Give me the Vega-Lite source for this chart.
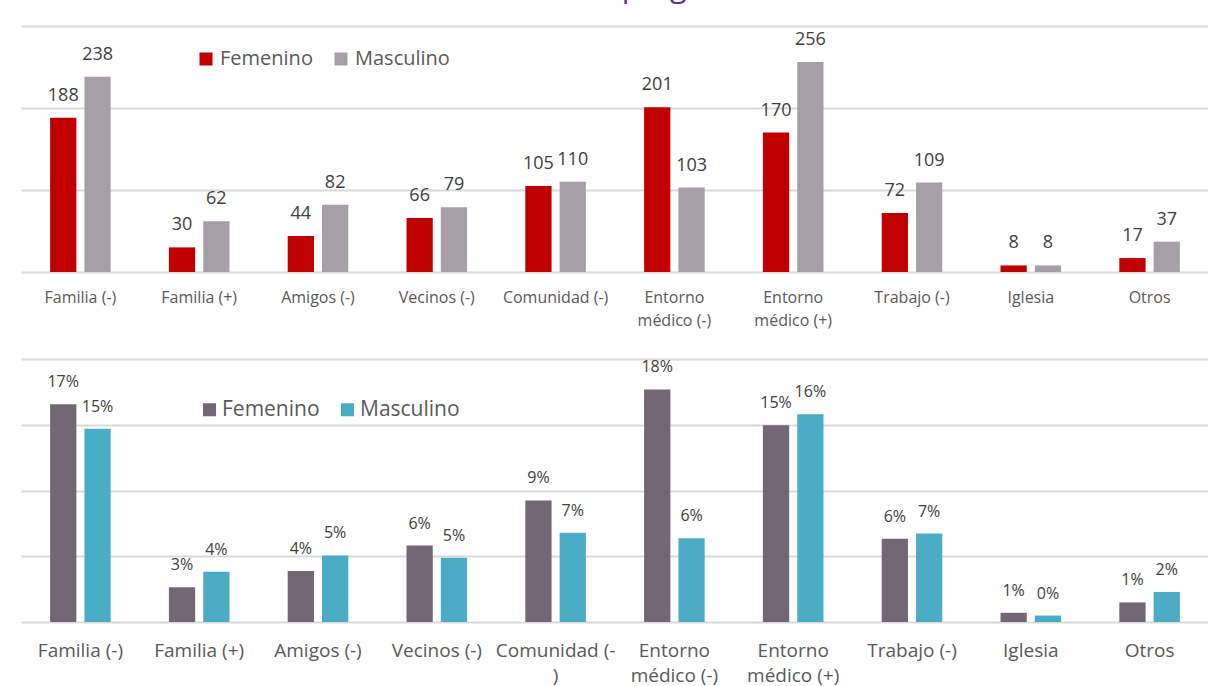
{
  "$schema": "https://vega.github.io/schema/vega-lite/v6.json",
  "padding": {"left": 21, "top": -28, "right": 0, "bottom": 0},
  "background": "white",
  "title": {
    "text": "Gráfico N° 14 – Entornos mencionados en preguntas abiertas",
    "anchor": "start",
    "fontSize": 30.5,
    "font": "Open Sans",
    "fontWeight": "normal",
    "color": "#662D91",
    "baseline": "alphabetic",
    "offset": -1
  },
  "bounds": "flush",
  "spacing": 87,
  "datasets": {
    "d": [
      {"cat": "Familia (-)", "genero": "Femenino", "n": 188, "pct": 0.1655},
      {"cat": "Familia (-)", "genero": "Masculino", "n": 238, "pct": 0.1469},
      {"cat": "Familia (+)", "genero": "Femenino", "n": 30, "pct": 0.0264},
      {"cat": "Familia (+)", "genero": "Masculino", "n": 62, "pct": 0.0383},
      {"cat": "Amigos (-)", "genero": "Femenino", "n": 44, "pct": 0.0387},
      {"cat": "Amigos (-)", "genero": "Masculino", "n": 82, "pct": 0.0506},
      {"cat": "Vecinos (-)", "genero": "Femenino", "n": 66, "pct": 0.0581},
      {"cat": "Vecinos (-)", "genero": "Masculino", "n": 79, "pct": 0.0488},
      {"cat": "Comunidad (-)", "genero": "Femenino", "n": 105, "pct": 0.0924},
      {"cat": "Comunidad (-)", "genero": "Masculino", "n": 110, "pct": 0.0679},
      {"cat": "Entorno médico (-)", "genero": "Femenino", "n": 201, "pct": 0.1769},
      {"cat": "Entorno médico (-)", "genero": "Masculino", "n": 103, "pct": 0.0636},
      {"cat": "Entorno médico (+)", "genero": "Femenino", "n": 170, "pct": 0.1496},
      {"cat": "Entorno médico (+)", "genero": "Masculino", "n": 256, "pct": 0.158},
      {"cat": "Trabajo (-)", "genero": "Femenino", "n": 72, "pct": 0.0634},
      {"cat": "Trabajo (-)", "genero": "Masculino", "n": 109, "pct": 0.0673},
      {"cat": "Iglesia", "genero": "Femenino", "n": 8, "pct": 0.007},
      {"cat": "Iglesia", "genero": "Masculino", "n": 8, "pct": 0.0049},
      {"cat": "Otros", "genero": "Femenino", "n": 17, "pct": 0.0149},
      {"cat": "Otros", "genero": "Masculino", "n": 37, "pct": 0.0228}
    ]
  },
  "vconcat": [
    {
      "width": 1188,
      "height": 246,
      "data": {"name": "d"},
      "encoding": {
        "x": {
          "field": "cat",
          "type": "nominal",
          "sort": ["Familia (-)", "Familia (+)", "Amigos (-)", "Vecinos (-)", "Comunidad (-)", "Entorno médico (-)", "Entorno médico (+)", "Trabajo (-)", "Iglesia", "Otros"],
          "scale": {"paddingInner": 0.49, "paddingOuter": 0.245},
          "axis": {
            "labelFontSize": 16,
            "labelPadding": 17,
            "labelLineHeight": 23,
            "labelExpr": "datum.value == 'Entorno médico (-)' ? ['Entorno', 'médico (-)'] : datum.value == 'Entorno médico (+)' ? ['Entorno', 'médico (+)'] : datum.label"
          }
        },
        "xOffset": {"field": "genero", "type": "nominal", "scale": {"paddingInner": 0.235}},
        "y": {
          "field": "n",
          "type": "quantitative",
          "scale": {"domain": [0, 300], "nice": false},
          "axis": {"values": [0, 100, 200, 300]}
        }
      },
      "layer": [
        {
          "mark": {"type": "bar"},
          "encoding": {
            "color": {
              "field": "genero",
              "type": "nominal",
              "scale": {"domain": ["Femenino", "Masculino"], "range": ["#C00000", "#A79FA7"]},
              "legend": {
                "orient": "none",
                "direction": "horizontal",
                "legendX": 175,
                "legendY": 23,
                "labelFontSize": 20,
                "labelOffset": 4,
                "columnPadding": 18
              }
            }
          }
        },
        {
          "mark": {"type": "text", "baseline": "alphabetic", "dy": -17, "fontSize": 18, "font": "Open Sans", "color": "#404040"},
          "encoding": {"text": {"field": "n", "type": "quantitative"}}
        }
      ]
    },
    {
      "width": 1188,
      "height": 263,
      "data": {"name": "d"},
      "encoding": {
        "x": {
          "field": "cat",
          "type": "nominal",
          "sort": ["Familia (-)", "Familia (+)", "Amigos (-)", "Vecinos (-)", "Comunidad (-)", "Entorno médico (-)", "Entorno médico (+)", "Trabajo (-)", "Iglesia", "Otros"],
          "scale": {"paddingInner": 0.49, "paddingOuter": 0.245},
          "axis": {
            "labelFontSize": 19,
            "labelPadding": 19,
            "labelLineHeight": 25,
            "labelExpr": "datum.value == 'Entorno médico (-)' ? ['Entorno', 'médico (-)'] : datum.value == 'Entorno médico (+)' ? ['Entorno', 'médico (+)'] : datum.value == 'Comunidad (-)' ? ['Comunidad (-', ')'] : datum.label"
          }
        },
        "xOffset": {"field": "genero", "type": "nominal", "scale": {"paddingInner": 0.235}},
        "y": {
          "field": "pct",
          "type": "quantitative",
          "scale": {"domain": [0, 0.2], "nice": false},
          "axis": {"values": [0, 0.05, 0.1, 0.15, 0.2]}
        }
      },
      "layer": [
        {
          "mark": {"type": "bar"},
          "encoding": {
            "color": {
              "field": "genero",
              "type": "nominal",
              "scale": {"domain": ["Femenino", "Masculino"], "range": ["#746775", "#4BACC6"]},
              "legend": {
                "orient": "none",
                "direction": "horizontal",
                "legendX": 178,
                "legendY": 40,
                "labelFontSize": 21,
                "labelOffset": 2,
                "columnPadding": 17
              }
            }
          }
        },
        {
          "mark": {"type": "text", "baseline": "alphabetic", "dy": -17, "fontSize": 16, "font": "Open Sans", "color": "#404040"},
          "encoding": {"text": {"field": "pct", "type": "quantitative", "format": ".0%"}}
        }
      ]
    }
  ],
  "resolve": {"scale": {"color": "independent"}, "legend": {"color": "independent"}},
  "config": {
    "font": "Open Sans",
    "view": {"stroke": null},
    "axisX": {"title": null, "ticks": false, "domain": false, "grid": false, "labelAngle": 0, "labelColor": "#595959", "labelFont": "Open Sans"},
    "axisY": {"title": null, "labels": false, "ticks": false, "domain": false, "grid": true, "gridColor": "#d9d9d9", "gridWidth": 2},
    "legend": {
      "title": null,
      "padding": 0,
      "symbolType": "square",
      "symbolSize": 169,
      "symbolStrokeWidth": 0,
      "labelColor": "#595959",
      "labelFont": "Open Sans"
    }
  }
}
